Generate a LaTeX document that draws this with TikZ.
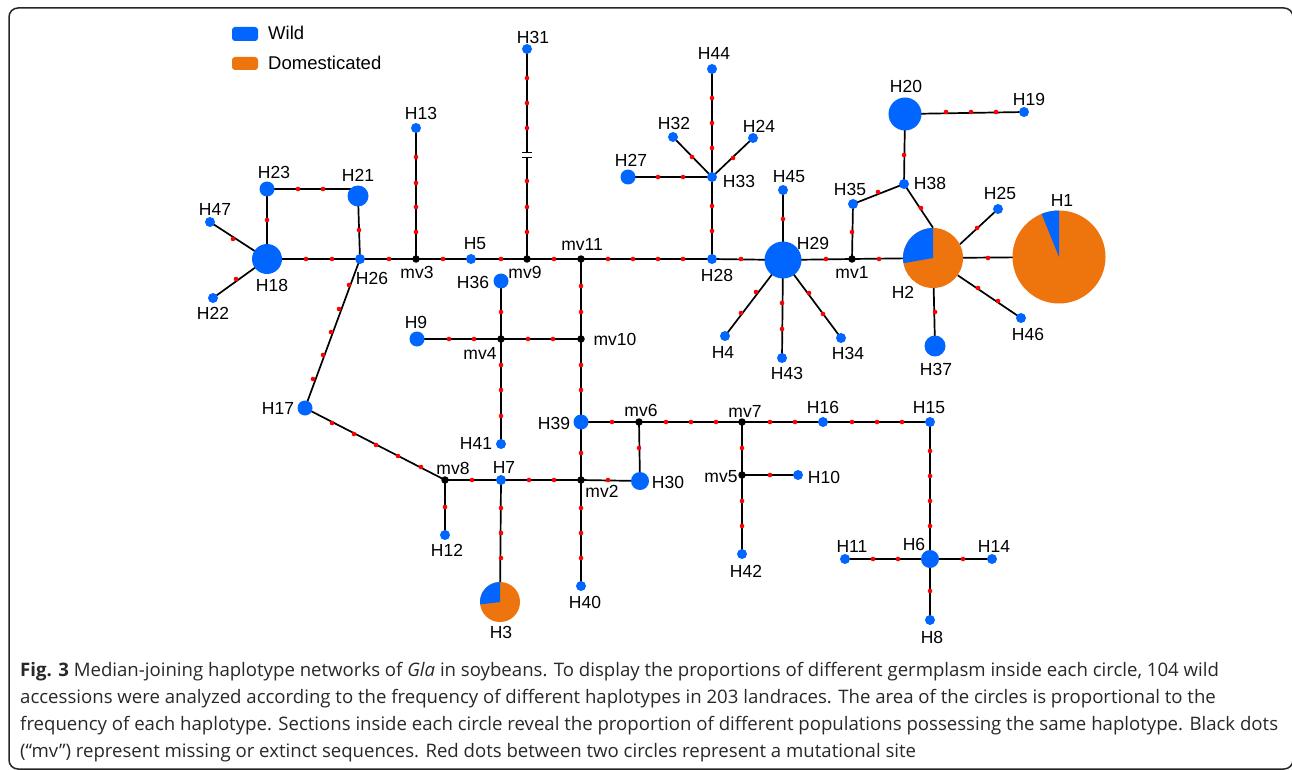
\documentclass[tikz,border=0pt]{standalone}
\usepackage{fontspec}
\setmainfont{Liberation Sans}
\newfontfamily\capfont{Open Sans}
\definecolor{wild}{RGB}{0,102,255}
\definecolor{dom}{RGB}{238,116,14}
\definecolor{mutc}{RGB}{255,0,0}
\definecolor{captxt}{RGB}{40,40,40}
\pgfdeclarelayer{bg}
\pgfsetlayers{bg,main}
\begin{document}
\begin{tikzpicture}[x=1pt,y=1pt,
  hap/.style={circle,fill=wild,inner sep=0pt,minimum size=#1},
  pie/.style={circle,fill=dom,inner sep=0pt,minimum size=#1},
  mvn/.style={circle,fill=black,inner sep=0pt,minimum size=7.5pt},
  lbl/.style={inner sep=0pt,font=\fontsize{17.5}{20}\selectfont},
  leg/.style={inner sep=0pt,anchor=west,font=\fontsize{18.5}{21}\selectfont},
  captext/.style={inner sep=0pt,anchor=base west,text=captxt,font=\capfont\fontsize{18.6}{22}\selectfont},
  link/.style={line width=1.7pt,black}]
\useasboundingbox (0,0) rectangle (1292,-770);

% ---------- haplotype nodes ----------
\node[hap=10pt] (H31) at (527,-49) {};
\node[hap=10pt] (H13) at (416,-128) {};
\node[hap=15pt] (H23) at (267,-189) {};
\node[hap=21pt] (H21) at (358,-196) {};
\node[hap=10pt] (H47) at (210,-222) {};
\node[hap=30pt] (H18) at (267,-259) {};
\node[hap=10pt] (H26) at (360,-259) {};
\node[mvn] (mv3) at (416,-259) {};
\node[hap=10pt] (H5) at (471,-259) {};
\node[mvn] (mv9) at (527,-259) {};
\node[mvn] (mv11) at (581,-259) {};
\node[hap=15pt] (H36) at (501,-281) {};
\node[hap=10pt] (H22) at (213,-298) {};
\node[hap=15pt] (H17) at (305,-408) {};
\node[mvn] (mv4) at (501,-339) {};
\node[hap=15pt] (H9) at (417,-339) {};
\node[mvn] (mv10) at (581,-339) {};
\node[hap=10pt] (H41) at (501,-444) {};
\node[hap=15pt] (H39) at (581,-422) {};
\node[mvn] (mv6) at (639,-422) {};
\node[hap=18pt] (H30) at (640,-481) {};
\node[mvn] (mv2) at (581,-480) {};
\node[mvn] (mv8) at (445,-480) {};
\node[hap=10pt] (H7) at (501,-480) {};
\node[hap=10pt] (H12) at (445,-535) {};
\node[pie=40pt] (H3) at (500,-602) {};
\node[hap=10pt] (H40) at (581,-586) {};
\node[mvn] (mv7) at (742,-422) {};
\node[hap=10pt] (H16) at (823,-422) {};
\node[hap=10pt] (H15) at (930,-422) {};
\node[mvn] (mv5) at (742,-475) {};
\node[hap=10pt] (H10) at (798,-475) {};
\node[hap=10pt] (H42) at (742,-554) {};
\node[hap=18pt] (H6) at (930,-559) {};
\node[hap=10pt] (H11) at (845,-559) {};
\node[hap=10pt] (H14) at (992,-559) {};
\node[hap=10pt] (H8) at (930,-620) {};
\node[hap=10pt] (H44) at (712,-69) {};
\node[hap=10pt] (H33) at (712,-177) {};
\node[hap=10pt] (H32) at (673,-137) {};
\node[hap=10pt] (H24) at (753,-138) {};
\node[hap=15pt] (H27) at (628,-177) {};
\node[hap=10pt] (H28) at (712,-259) {};
\node[hap=37pt] (H29) at (783,-260) {};
\node[hap=10pt] (H45) at (783,-190) {};
\node[hap=10pt] (H4) at (725,-336) {};
\node[hap=10pt] (H43) at (782,-358) {};
\node[hap=10pt] (H34) at (841,-338) {};
\node[mvn] (mv1) at (852,-259) {};
\node[hap=10pt] (H35) at (853,-204) {};
\node[hap=10pt] (H38) at (904,-184) {};
\node[hap=33pt] (H20) at (905,-114) {};
\node[hap=10pt] (H19) at (1024,-112) {};
\node[pie=60pt] (H2) at (933,-258) {};
\node[hap=10pt] (H25) at (998,-209) {};
\node[pie=93pt] (H1) at (1059,-257) {};
\node[hap=10pt] (H46) at (1021,-318) {};
\node[hap=21pt] (H37) at (935,-346) {};

% pie sectors (wild part)
\fill[wild] (H2.center) -- ++(90:30pt) arc[start angle=90,end angle=190,radius=30pt] -- cycle;
\fill[wild] (H3.center) -- ++(90:20pt) arc[start angle=90,end angle=187,radius=20pt] -- cycle;
\fill[wild] (H1.center) -- ++(90:46.5pt) arc[start angle=90,end angle=112,radius=46.5pt] -- cycle;

% ---------- connectors ----------
\begin{pgfonlayer}{bg}
\fill[white] (0,0) rectangle (1292,-770);
\draw[link] (H31.center) -- (mv9.center);
\draw[link] (H13.center) -- (mv3.center);
\draw[link] (H23.center) -- (H23.center -| H21.center);
\draw[link] (H23.center) -- (H18.center);
\draw[link] (H21.center) -- (H26.center);
\draw[link] (H47.center) -- (H18.center);
\draw[link] (H22.center) -- (H18.center);
\draw[link] (H18.center) -- (H26.center);
\draw[link] (H26.center) -- (mv3.center);
\draw[link] (mv3.center) -- (H5.center);
\draw[link] (H5.center) -- (mv9.center);
\draw[link] (mv9.center) -- (mv11.center);
\draw[link] (mv11.center) -- (H28.center);
\draw[link] (H28.center) -- (H29.center);
\draw[link] (H29.center) -- (mv1.center);
\draw[link] (mv1.center) -- (H2.center);
\draw[link] (H2.center) -- (H1.center);
\draw[link] (H26.center) -- (H17.center);
\draw[link] (H17.center) -- (mv8.center);
\draw[link] (mv8.center) -- (H7.center);
\draw[link] (H7.center) -- (mv2.center);
\draw[link] (mv2.center) -- (H30.center);
\draw[link] (mv8.center) -- (H12.center);
\draw[link] (H7.center) -- (H3.center);
\draw[link] (mv2.center) -- (H40.center);
\draw[link] (mv11.center) -- (mv10.center);
\draw[link] (mv10.center) -- (H39.center);
\draw[link] (H39.center) -- (mv2.center);
\draw[link] (H36.center) -- (mv4.center);
\draw[link] (H9.center) -- (mv4.center);
\draw[link] (mv4.center) -- (mv10.center);
\draw[link] (mv4.center) -- (H41.center);
\draw[link] (H39.center) -- (mv6.center);
\draw[link] (mv6.center) -- (H30.center);
\draw[link] (mv6.center) -- (mv7.center);
\draw[link] (mv7.center) -- (H16.center);
\draw[link] (H16.center) -- (H15.center);
\draw[link] (H15.center) -- (H6.center);
\draw[link] (H11.center) -- (H6.center);
\draw[link] (H6.center) -- (H14.center);
\draw[link] (H6.center) -- (H8.center);
\draw[link] (mv7.center) -- (mv5.center);
\draw[link] (mv5.center) -- (H10.center);
\draw[link] (mv5.center) -- (H42.center);
\draw[link] (H44.center) -- (H33.center);
\draw[link] (H32.center) -- (H33.center);
\draw[link] (H24.center) -- (H33.center);
\draw[link] (H27.center) -- (H33.center);
\draw[link] (H33.center) -- (H28.center);
\draw[link] (H29.center) -- (H45.center);
\draw[link] (H29.center) -- (H4.center);
\draw[link] (H29.center) -- (H43.center);
\draw[link] (H29.center) -- (H34.center);
\draw[link] (mv1.center) -- (H35.center);
\draw[link] (H35.center) -- (H38.center);
\draw[link] (H38.center) -- (H20.center);
\draw[link] (H20.center) -- (H19.center);
\draw[link] (H38.center) -- (H2.north);
\draw[link] (H25.center) -- (H2.27);
\draw[link] (H46.center) -- (H2.-35);
\draw[link] (H2.center) -- (H37.center);
\end{pgfonlayer}

% frame
\draw[line width=1.5pt,rounded corners=9pt,black!85] (9,-8) rectangle (1293,-769);

% break mark on H31 -- mv9
\fill[white] (520,-153.3) rectangle (534,-156.7);
\draw[line width=1.5pt] (522,-152.6) -- (532,-152.6) (522,-157.4) -- (532,-157.4);

% ---------- mutation dots ----------
\foreach \x/\y in {
 527/78,527/103,527/128,527/181,527/207,527/232,
 416/157,416/183,416/207,416/232,
 298/189,323/189, 267/220, 359/230, 233/239, 236/279,
 306/259,332/259, 389/259, 443/259, 501/259, 554/259,
 608/259,633/259,658/259,683/259, 741/259, 826/259, 879/259, 988/258,
 349/285,339/309,331/332,323/355,313/379,
 332/423,354/434,376/445,398/456,421/467,
 472/480, 529/480,554/480, 608/480, 445/507,
 501/508,501/533,501/558, 581/508,581/533,581/558,
 581/286,581/312, 581/365,581/390, 581/453,
 501/312, 449/339,474/339, 528/339,553/339,
 501/365,501/390,501/416,
 612/422, 639/448, 666/422,691/422,716/422,
 770/422,795/422, 852/422,877/422,902/422,
 930/451,930/476,930/501,930/526,
 873/559,898/559, 963/559, 930/591,
 742/448, 770/475, 742/501,742/526,
 712/98,712/123,712/148, 692/157, 733/158, 658/177,683/177,
 712/206,712/231, 783/219,
 756/292,741/313, 782/303,782/329, 809/293,823/314,
 852/232, 878/192, 904/155, 946/112,971/112,996/112,
 921/208, 977/228, 978/288,998/301, 935/312}
 \fill[mutc] (\x,-\y) circle (2.3pt);

% ---------- labels ----------
\foreach \n/\x/\y/\t in {
 H31/533/37/H31, H13/421/113/H13, H23/274/172/H23, H21/358/175/H21,
 H47/215/209/H47, H5/475/244/H5, mv11/582/244/mv11, H26/372/278/H26,
 mv3/417/272/mv3, mv9/525/272/mv9, H36/473/282/H36, H18/272/285/H18,
 H22/213/313/H22, H17/278/408/H17, H9/416/322/H9, mv4/480/353/mv4,
 mv10/615/339/mv10, H39/554/423/H39, mv6/641/410/mv6, H41/476/443/H41,
 mv8/453/468/mv8, H7/504/467/H7, mv2/602/491/mv2, H12/447/550/H12,
 H40/585/602/H40, H3/501/632/H3, mv7/745/411/mv7, H16/823/407/H16,
 H15/929/408/H15, mv5/721/477/mv5, H10/824/477/H10, H30/668/482/H30,
 H42/746/571/H42, H11/852/546/H11, H6/914/544/H6, H14/994/546/H14,
 H8/932/637/H8, H44/714/53/H44, H32/674/123/H32, H24/759/126/H24,
 H27/631/160/H27, H33/739/181/H33, H45/789/177/H45, H29/813/243/H29,
 H28/717/275/H28, mv1/852/272/mv1, H35/850/189/H35, H38/930/183/H38,
 H20/906/86/H20, H25/1000/193/H25, H2/903/292/H2, H19/1029/99/H19,
 H1/1062/200/H1, H46/1028/334/H46, H37/936/369/H37, H4/723/352/H4,
 H43/787/373/H43, H34/848/353/H34}
 \node[lbl] (l\n) at (\x,-\y) {\t};

% ---------- legend ----------
\fill[wild,rounded corners=3pt] (232,-27) rectangle (258,-41);
\fill[dom,rounded corners=3pt] (232,-57) rectangle (258,-70);
\node[leg] (legW) at (268,-33) {Wild};
\node[leg] (legD) at (268,-63) {Domesticated};

% ---------- caption ----------
\node[captext] (cap1) at (20,-676) {\textbf{Fig. 3} Median-joining haplotype networks of \textit{Gla} in soybeans. To display the proportions of different germplasm inside each circle, 104 wild};
\node[captext] (cap2) at (20,-703) {accessions were analyzed according to the frequency of different haplotypes in 203 landraces. The area of the circles is proportional to the};
\node[captext] (cap3) at (20,-730) {frequency of each haplotype. Sections inside each circle reveal the proportion of different populations possessing the same haplotype. Black dots};
\node[captext] (cap4) at (20,-757) {(“mv”) represent missing or extinct sequences. Red dots between two circles represent a mutational site};
\end{tikzpicture}
\end{document}
